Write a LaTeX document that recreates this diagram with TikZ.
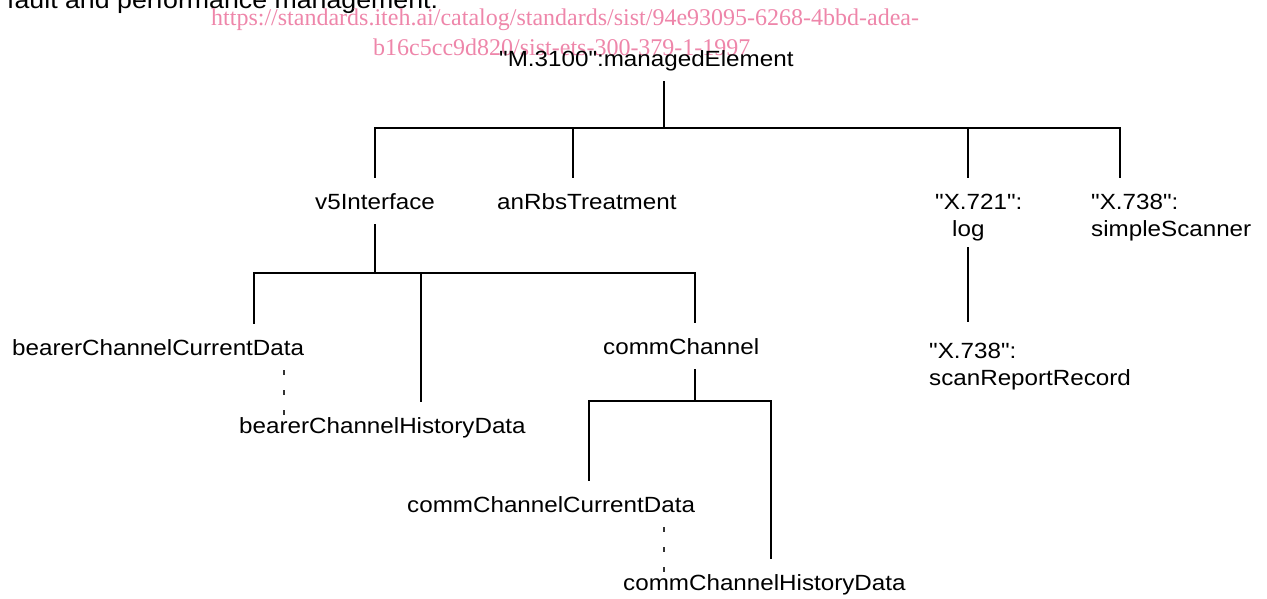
\documentclass[tikz,border=0pt]{standalone}
\usepackage{fontspec}
\newfontfamily\lblfamily[FakeStretch=1.1]{Liberation Sans}
\newfontfamily\wmfamily{Liberation Serif}
\definecolor{wmpink}{RGB}{238,134,170}
\tikzset{
  lbl/.style={anchor=base west, inner xsep=0pt, inner ysep=15pt,
    text height=16pt, text depth=0pt,
    font=\lblfamily\fontsize{22pt}{26pt}\selectfont},
  wm/.style={anchor=base west, inner sep=0pt, text=wmpink,
    font=\wmfamily\fontsize{24pt}{28pt}\selectfont},
  branch/.style={line width=2.2pt, draw=black},
  dotline/.style={line width=1.1pt, draw=black!80, dash pattern=on 5pt off 15pt}
}
\begin{document}
\begin{tikzpicture}[x=1pt,y=-1pt]
\useasboundingbox (0,0) rectangle (1267,598);

% tail of the running text above the figure
\node[anchor=base west, inner sep=0pt,
      font=\lblfamily\fontsize{24.3pt}{28pt}\selectfont] (intro) at (7,8)
      {fault and performance management.};

% catalogue stamp
\node[wm] (wm1) at (211,25) {https://standards.iteh.ai/catalog/standards/sist/94e93095-6268-4bbd-adea-};
\node[wm] (wm2) at (373,55) {b16c5cc9d820/sist-ets-300-379-1-1997};

% object classes
\node[lbl] (me)  at (499,66)  {"M.3100":managedElement};
\node[lbl] (v5)  at (315,209) {v5Interface};
\node[lbl] (rbs) at (497,209) {anRbsTreatment};
\node[lbl] (x721) at (935,209) {"X.721":};
\node[lbl] (log)  at (952,236) {log};
\node[lbl] (x738a) at (1091,209) {"X.738":};
\node[lbl] (scanner) at (1091,236) {simpleScanner};
\node[lbl] (x738b) at (929,358) {"X.738":};
\node[lbl] (scan)  at (929,385) {scanReportRecord};
\node[lbl] (bcd) at (12,355)  {bearerChannelCurrentData};
\node[lbl] (cc)  at (603,354) {commChannel};
\node[lbl] (bhd) at (239,433) {bearerChannelHistoryData};
\node[lbl] (ccd) at (407,512) {commChannelCurrentData};
\node[lbl] (chd) at (623,590) {commChannelHistoryData};

% junctions of the naming tree
\coordinate (j0)    at (664,128);
\coordinate (dv5)   at (375,128);
\coordinate (drbs)  at (573,128);
\coordinate (dlog)  at (968,128);
\coordinate (dscan) at (1120,128);
\coordinate (j1)    at (375,273);
\coordinate (dbcd)  at (254,273);
\coordinate (dbhd)  at (421,273);
\coordinate (dcc)   at (695,273);
\coordinate (j2)    at (695,401);
\coordinate (dccd)  at (589,401);
\coordinate (dchd)  at (771,401);
\coordinate (dot1)  at (284,0);
\coordinate (dot2)  at (664,0);

% containment lines
\draw[branch] (me.south -| j0) -- (j0);
\draw[branch] (v5.north -| dv5) -- (dv5) -- (dscan) -- (x738a.north -| dscan);
\draw[branch] (drbs) -- (rbs.north -| drbs);
\draw[branch] (dlog) -- (x721.north -| dlog);
\draw[branch] ([yshift=4pt]log.south -| dlog) -- ([yshift=5pt]x738b.north -| dlog);

\draw[branch] (v5.south -| j1) -- (j1);
\draw[branch] (bcd.north -| dbcd) -- (dbcd) -- (dcc) -- (cc.north -| dcc);
\draw[branch] (dbhd) -- (bhd.north -| dbhd);

\draw[branch] (cc.south -| j2) -- (j2);
\draw[branch] (ccd.north -| dccd) -- (dccd) -- (dchd) -- (chd.north -| dchd);

% current / history data pairs
\draw[dotline] (bcd.south -| dot1) -- ([yshift=-13pt]bhd.north -| dot1);
\draw[dotline] (ccd.south -| dot2) -- ([yshift=-14pt]chd.north -| dot2);
\end{tikzpicture}
\end{document}
